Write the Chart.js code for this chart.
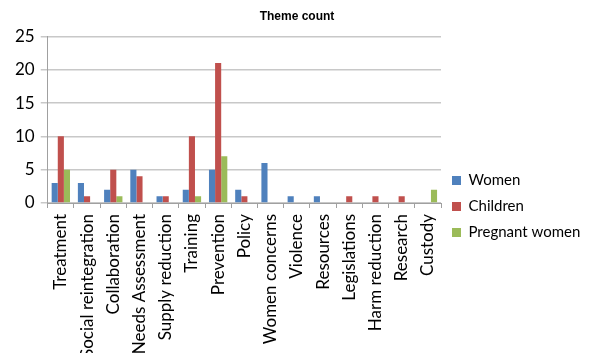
<!DOCTYPE html>
<html>
<head>
<meta charset="utf-8">
<script src="https://cdn.jsdelivr.net/npm/chart.js@4/dist/chart.umd.min.js"></script>
<style>
  html, body { margin: 0; padding: 0; background: #fff; }
</style>
</head>
<body>
<canvas id="themeChart" width="589" height="353"></canvas>
<script>
const themes = ["Treatment", "Social reintegration", "Collaboration", "Needs Assessment",
  "Supply reduction", "Training", "Prevention", "Policy", "Women concerns", "Violence",
  "Resources", "Legislations", "Harm reduction", "Research", "Custody"];
const women    = [3, 3, 2, 5, 1, 2, 5, 2, 6, 1, 1, 0, 0, 0, 0];
const children = [10, 1, 5, 4, 1, 10, 21, 1, 0, 0, 0, 1, 1, 1, 0];
const pregnant = [5, 0, 1, 0, 0, 1, 7, 0, 0, 0, 0, 0, 0, 0, 2];
const yTicks   = [0, 5, 10, 15, 20, 25];

const font = "Lato, 'Open Sans', sans-serif";

new Chart(document.getElementById("themeChart"), {
  type: "bar",
  data: {
    labels: themes,
    datasets: [
      { label: "Women", data: women, backgroundColor: "#4F81BD" },
      { label: "Children", data: children, backgroundColor: "#C0504D" },
      { label: "Pregnant women", data: pregnant, backgroundColor: "#9BBB59" }
    ]
  },
  options: {
    responsive: false,
    animation: false,
    layout: { padding: { left: 9, right: 4, top: 0, bottom: 0 } },
    datasets: { bar: { categoryPercentage: 0.7, barPercentage: 1.0 } },
    plugins: {
      title: {
        display: true,
        text: "Theme count",
        color: "#000",
        font: { family: "Arial, 'Liberation Sans', sans-serif", size: 12, weight: "bold" },
        padding: { top: 9, bottom: 13 }
      },
      legend: {
        position: "right",
        align: "center",
        // empty legend title only pushes the items down, like the original
        title: { display: true, text: " ", font: { size: 10 }, padding: { top: 48, bottom: 0 } },
        labels: {
          color: "#000",
          font: { family: font, size: 15 },
          boxWidth: 9,
          boxHeight: 9,
          padding: 11
        }
      },
      tooltip: { enabled: true }
    },
    scales: {
      x: {
        grid: { drawOnChartArea: false, color: "#a0a0a0", tickLength: 5 },
        border: { color: "#a0a0a0" },
        ticks: {
          color: "#000",
          font: { family: font, size: 17 },
          minRotation: 90,
          maxRotation: 90,
          autoSkip: false,
          padding: 6
        },
        afterFit(scale) { scale.height = 150; }
      },
      y: {
        min: 0,
        max: 25,
        afterBuildTicks(scale) { scale.ticks = yTicks.map(v => ({ value: v })); },
        grid: { color: "#c8c8c8", lineWidth: 1.5, tickLength: 7 },
        border: { color: "#a0a0a0" },
        ticks: {
          color: "#000",
          font: { family: font, size: 17 },
          padding: 6
        }
      }
    }
  }
});
</script>
</body>
</html>
